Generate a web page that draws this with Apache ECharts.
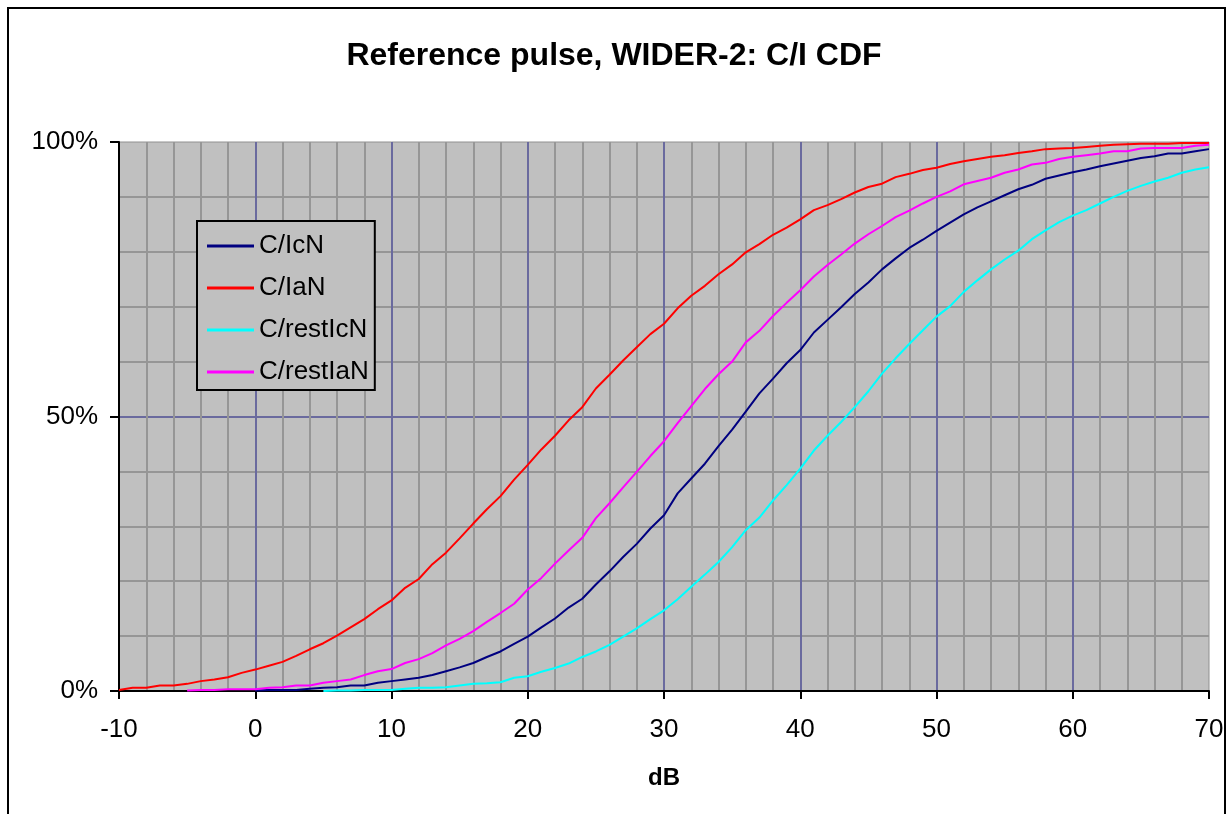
<!DOCTYPE html>
<html>
<head>
<meta charset="UTF-8">
<title>Reference pulse, WIDER-2: C/I CDF</title>
<script src="https://cdn.jsdelivr.net/npm/echarts@6/dist/echarts.min.js"></script>
<style>
    html, body { margin: 0; padding: 0; background: #fff; }
    #chart { width: 1228px; height: 814px; }
</style>
</head>
<body>
<div id="chart"></div>
<script>
    // x values (dB)
    const dbValues = [-10, -9, -8, -7, -6, -5, -4, -3, -2, -1,
        0, 1, 2, 3, 4, 5, 6, 7, 8, 9,
        10, 11, 12, 13, 14, 15, 16, 17, 18, 19,
        20, 21, 22, 23, 24, 25, 26, 27, 28, 29,
        30, 31, 32, 33, 34, 35, 36, 37, 38, 39,
        40, 41, 42, 43, 44, 45, 46, 47, 48, 49,
        50, 51, 52, 53, 54, 55, 56, 57, 58, 59,
        60, 61, 62, 63, 64, 65, 66, 67, 68, 69,
        70];

    // CDF values in %, one per dB value (null = not plotted)
    const cIcN = [null, null, null, null, null, null, null, null, null, null,
        0.1, 0.2, 0.2, 0.2, 0.4, 0.6, 0.7, 1.0, 1.0, 1.5,
        1.8, 2.1, 2.4, 2.9, 3.6, 4.3, 5.1, 6.2, 7.2, 8.6,
        9.9, 11.6, 13.2, 15.2, 16.8, 19.4, 21.8, 24.4, 26.8, 29.6,
        32.0, 36.0, 38.7, 41.4, 44.6, 47.6, 50.9, 54.2, 56.9, 59.7,
        62.1, 65.3, 67.6, 69.9, 72.3, 74.4, 76.8, 78.8, 80.7, 82.2,
        83.8, 85.3, 86.8, 88.1, 89.2, 90.3, 91.4, 92.2, 93.3, 93.9,
        94.5, 95.0, 95.6, 96.1, 96.6, 97.1, 97.4, 97.9, 97.9, 98.3,
        98.7];

    const cIaN = [0.2, 0.6, 0.6, 1.0, 1.0, 1.3, 1.8, 2.1, 2.5, 3.3,
        3.9, 4.6, 5.3, 6.4, 7.6, 8.7, 10.1, 11.6, 13.1, 14.9,
        16.5, 18.8, 20.4, 23.1, 25.2, 27.8, 30.5, 33.1, 35.5, 38.5,
        41.2, 44.0, 46.5, 49.3, 51.7, 55.1, 57.6, 60.2, 62.6, 65.0,
        66.9, 69.7, 72.0, 73.8, 75.9, 77.7, 79.9, 81.4, 83.1, 84.4,
        85.9, 87.6, 88.5, 89.6, 90.8, 91.8, 92.4, 93.6, 94.2, 94.9,
        95.3, 96.0, 96.5, 96.9, 97.3, 97.6, 98.0, 98.3, 98.7, 98.8,
        98.9, 99.1, 99.3, 99.5, 99.6, 99.7, 99.7, 99.7, 99.8, 99.8,
        99.8];

    const cRestIcN = [null, null, null, null, null, null, null, null, null, null,
        null, null, null, null, null, 0.0, 0.1, 0.1, 0.2, 0.2,
        0.2, 0.4, 0.6, 0.6, 0.7, 1.0, 1.3, 1.4, 1.6, 2.4,
        2.7, 3.5, 4.2, 5.0, 6.2, 7.2, 8.4, 9.9, 11.4, 13.1,
        14.7, 16.7, 19.0, 21.2, 23.5, 26.2, 29.3, 31.6, 34.7, 37.5,
        40.5, 43.8, 46.5, 49.0, 51.7, 54.6, 57.8, 60.6, 63.2, 65.7,
        68.2, 70.1, 72.7, 74.8, 76.8, 78.6, 80.2, 82.3, 83.9, 85.4,
        86.6, 87.6, 88.8, 90.0, 91.1, 92.0, 92.8, 93.5, 94.4, 95.0,
        95.4];

    const cRestIaN = [null, null, null, null, null, 0.1, 0.2, 0.2, 0.3, 0.3,
        0.3, 0.6, 0.7, 1.0, 1.0, 1.5, 1.8, 2.1, 2.9, 3.6,
        4.0, 5.1, 5.8, 6.9, 8.3, 9.5, 10.9, 12.6, 14.2, 15.9,
        18.5, 20.6, 23.2, 25.6, 27.9, 31.5, 34.2, 37.1, 39.9, 42.8,
        45.5, 48.8, 51.9, 55.0, 57.7, 60.0, 63.5, 65.6, 68.3, 70.7,
        73.0, 75.5, 77.6, 79.5, 81.5, 83.2, 84.7, 86.3, 87.5, 88.8,
        90.0, 91.0, 92.3, 92.9, 93.5, 94.4, 95.0, 95.9, 96.2, 96.9,
        97.3, 97.6, 97.9, 98.3, 98.3, 98.8, 98.9, 98.9, 98.9, 99.3,
        99.5];

    const seriesNames = ['C/IcN', 'C/IaN', 'C/restIcN', 'C/restIaN'];
    const seriesColors = ['#000080', '#ff0000', '#00ffff', '#ff00ff'];
    const seriesValues = [cIcN, cIaN, cRestIcN, cRestIaN];

    function pares(valores) {
        return dbValues.map((x, i) => [x, valores[i]]).filter(p => p[1] !== null);
    }

    const fuente = "'Liberation Sans', Arial, sans-serif";
    const chart = echarts.init(document.getElementById('chart'));

    const option = {
        backgroundColor: '#ffffff',
        animation: false,
        textStyle: { fontFamily: fuente },
        graphic: [{
            type: 'rect',
            shape: { x: 8, y: 8, width: 1217, height: 900 },
            style: { fill: 'none', stroke: '#000', lineWidth: 2 },
            silent: true
        }],
        title: {
            text: 'Reference pulse, WIDER-2: C/I CDF',
            left: 'center',
            top: 40,
            padding: 0,
            textStyle: { fontFamily: fuente, fontSize: 32, fontWeight: 'bold', color: '#000' }
        },
        legend: {
            orient: 'vertical',
            left: 197,
            top: 221,
            data: seriesNames,
            icon: 'rect',
            backgroundColor: '#c0c0c0',
            borderColor: '#000',
            borderWidth: 2,
            padding: [11, 6, 4, 10],
            itemWidth: 47,
            itemHeight: 3,
            itemGap: 14,
            textStyle: { fontFamily: fuente, fontSize: 26, color: '#000', lineHeight: 28 }
        },
        grid: {
            left: 119,
            right: 19,
            top: 142,
            bottom: 123,
            show: true,
            backgroundColor: '#c0c0c0',
            borderColor: '#909090',
            borderWidth: 1
        },
        xAxis: {
            type: 'value',
            min: -10,
            max: 70,
            interval: 10,
            name: 'dB',
            nameLocation: 'middle',
            nameGap: 75,
            nameTextStyle: { fontFamily: fuente, fontSize: 24, fontWeight: 'bold', color: '#000' },
            axisLine: { show: true, onZero: false, lineStyle: { color: '#000', width: 2 } },
            axisTick: { show: true, length: 8, lineStyle: { color: '#000', width: 2 } },
            axisLabel: { fontFamily: fuente, fontSize: 26, color: '#000', margin: 26 },
            splitLine: { show: true, showMaxLine: false, lineStyle: { color: '#6a6a9e', width: 2 } },
            minorTick: { show: false, splitNumber: 5 },
            minorSplitLine: { show: true, lineStyle: { color: '#969696', width: 2 } }
        },
        yAxis: {
            type: 'value',
            min: 0,
            max: 100,
            interval: 50,
            axisLine: { show: true, onZero: false, lineStyle: { color: '#000', width: 2 } },
            axisTick: { show: true, length: 9, lineStyle: { color: '#000', width: 2 } },
            axisLabel: { fontFamily: fuente, fontSize: 26, color: '#000', margin: 21, formatter: '{value}%' },
            splitLine: { show: true, showMaxLine: false, lineStyle: { color: '#6a6a9e', width: 2 } },
            minorTick: { show: false, splitNumber: 5 },
            minorSplitLine: { show: true, lineStyle: { color: '#969696', width: 2 } }
        },
        series: seriesNames.map((nombre, i) => ({
            name: nombre,
            type: 'line',
            data: pares(seriesValues[i]),
            symbol: 'none',
            showSymbol: false,
            smooth: false,
            lineStyle: { color: seriesColors[i], width: 2 },
            itemStyle: { color: seriesColors[i] }
        }))
    };

    chart.setOption(option);
</script>
</body>
</html>
